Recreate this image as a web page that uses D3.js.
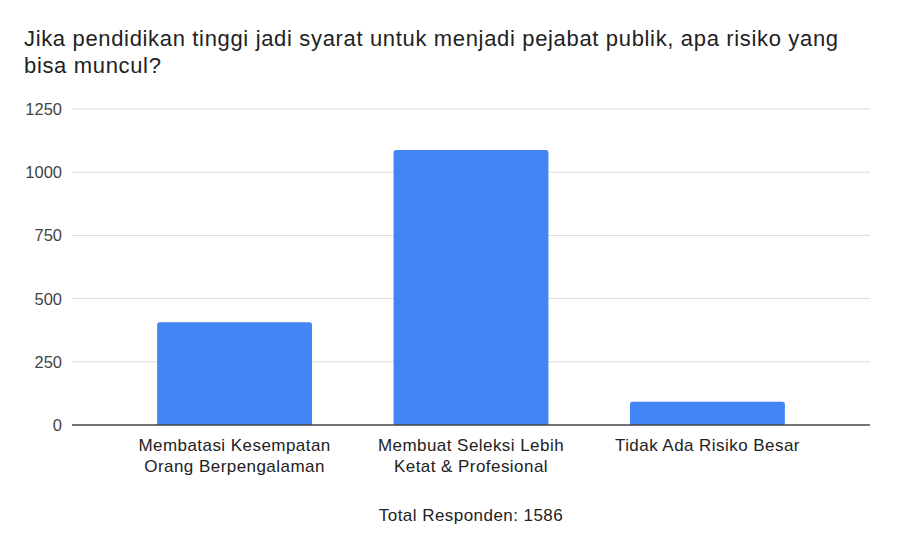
<!DOCTYPE html>
<html>
<head>
<meta charset="utf-8">
<script src="https://cdn.jsdelivr.net/npm/d3@7"></script>
<style>
  body { margin: 0; background: #fff; }
  svg text { font-family: "Liberation Sans", Arial, sans-serif; }
</style>
</head>
<body>
<div id="chart"></div>
<script>
// chart data
var titleLines = ["Jika pendidikan tinggi jadi syarat untuk menjadi pejabat publik, apa risiko yang", "bisa muncul?"];
var categories = [
    ["Membatasi Kesempatan", "Orang Berpengalaman"],
    ["Membuat Seleksi Lebih", "Ketat & Profesional"],
    ["Tidak Ada Risiko Besar"]
];
var responses = [406, 1088, 92];
var yTicks = [0, 250, 500, 750, 1000, 1250];
var xTitle = "Total Responden: 1586";

var width = 897, height = 533;
var margin = {top: 109, right: 27, bottom: 108, left: 72};

var svg = d3.select("#chart").append("svg")
    .attr("width", width)
    .attr("height", height);

// title
svg.append("text")
    .attr("x", 24)
    .attr("y", 46)
    .attr("fill", "#222")
    .style("font-size", "22px")
    .style("letter-spacing", "0.66px")
    .selectAll("tspan")
    .data(titleLines)
    .enter().append("tspan")
    .attr("x", 24)
    .attr("dy", function(d, i){ return i == 0 ? 0 : 26.7; })
    .text(function(d){ return d; });

var xScale = d3.scaleBand()
    .domain(d3.range(categories.length))
    .range([margin.left, width - margin.right])
    .paddingInner(0.345)
    .paddingOuter(0.36);

var yScale = d3.scaleLinear()
    .domain([0, 1250])
    .range([height - margin.bottom, margin.top]);

// gridlines
svg.append("g")
    .selectAll("line")
    .data(yTicks.filter(function(d){ return d > 0; }))
    .enter().append("line")
    .attr("x1", margin.left)
    .attr("x2", width - margin.right)
    .attr("y1", function(d){ return yScale(d); })
    .attr("y2", function(d){ return yScale(d); })
    .attr("stroke", "#d9d9d9")
    .attr("stroke-width", 1);

// y tick labels
svg.append("g")
    .selectAll("text")
    .data(yTicks)
    .enter().append("text")
    .attr("x", 62)
    .attr("y", function(d){ return yScale(d) + 6; })
    .attr("text-anchor", "end")
    .attr("fill", "#444")
    .style("font-size", "16.5px")
    .text(function(d){ return d; });

// bars with slightly rounded tops
function barPath(x, y, w, h, r){
    r = Math.min(r, h);
    return "M" + x + "," + (y + h) +
        "V" + (y + r) +
        "Q" + x + "," + y + " " + (x + r) + "," + y +
        "H" + (x + w - r) +
        "Q" + (x + w) + "," + y + " " + (x + w) + "," + (y + r) +
        "V" + (y + h) + "Z";
}

svg.append("g")
    .selectAll("path")
    .data(responses)
    .enter().append("path")
    .attr("d", function(d, i){
        var y0 = yScale(0), y1 = yScale(d);
        return barPath(xScale(i), y1, xScale.bandwidth(), y0 - y1, 2.5);
    })
    .attr("fill", "#4285f4");

// baseline
svg.append("line")
    .attr("x1", margin.left)
    .attr("x2", width - margin.right)
    .attr("y1", yScale(0))
    .attr("y2", yScale(0))
    .attr("stroke", "#444")
    .attr("stroke-width", 1.3);

// category labels
var cat = svg.append("g")
    .selectAll("text")
    .data(categories)
    .enter().append("text")
    .attr("text-anchor", "middle")
    .attr("fill", "#222")
    .style("font-size", "17px")
    .style("letter-spacing", "0.45px")
    .attr("y", 451);

cat.selectAll("tspan")
    .data(function(d, i){ return d.map(function(t){ return {t: t, i: i}; }); })
    .enter().append("tspan")
    .attr("x", function(d){ return xScale(d.i) + xScale.bandwidth() / 2; })
    .attr("dy", function(d, j){ return j == 0 ? 0 : 21; })
    .text(function(d){ return d.t; });

// x axis title
svg.append("text")
    .attr("x", xScale(1) + xScale.bandwidth() / 2)
    .attr("y", 521)
    .attr("text-anchor", "middle")
    .attr("fill", "#222")
    .style("font-size", "17px")
    .style("letter-spacing", "0.45px")
    .text(xTitle);
</script>
</body>
</html>
